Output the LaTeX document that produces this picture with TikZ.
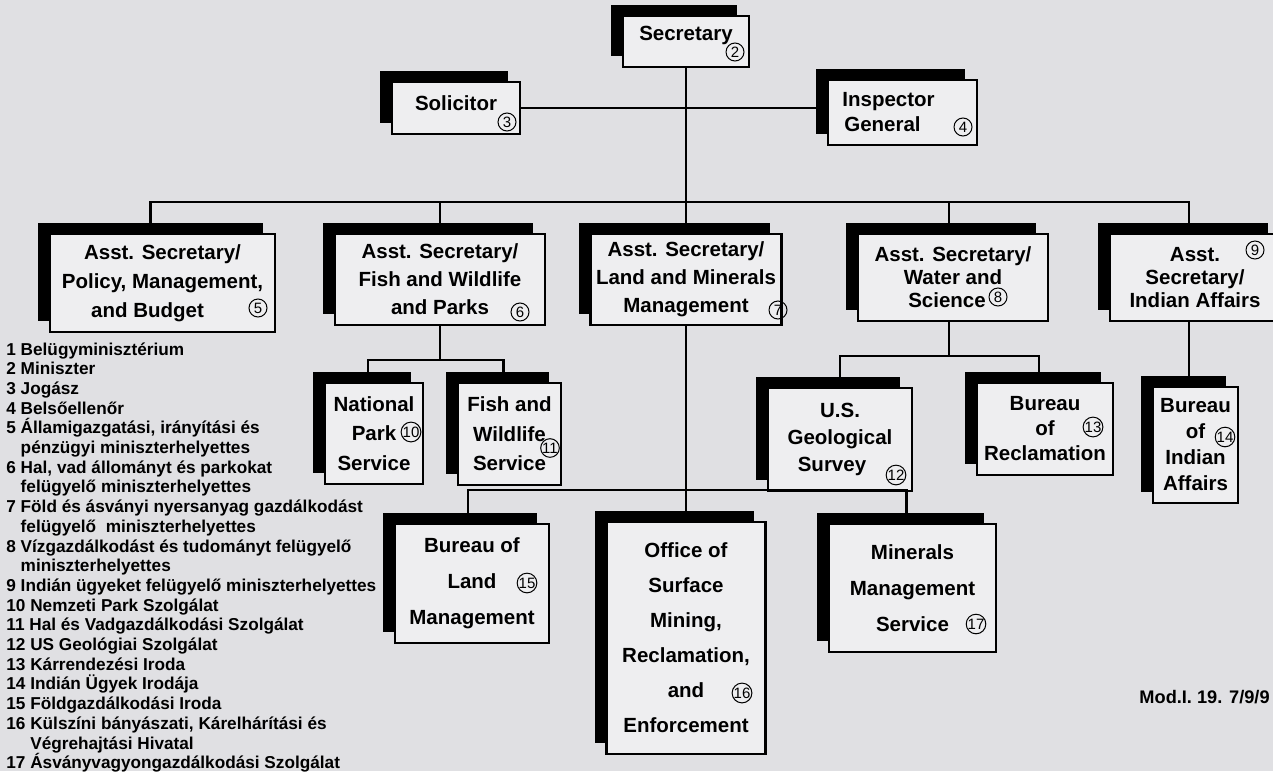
\documentclass[tikz,border=0pt]{standalone}
\usepackage{fontspec}
\setmainfont{Liberation Sans}
\usetikzlibrary{shadows}
\definecolor{paper}{RGB}{224,224,227}
\definecolor{card}{RGB}{238,238,240}

\begin{document}
\begin{tikzpicture}[x=.5pt,y=-.5pt,
  unit/.style={draw,line width=1.2pt,fill=card,align=center,inner xsep=.5pt,inner ysep=1pt,
    font=\bfseries\fontsize{10.25}{#1}\selectfont,
    general shadow={fill=black,shadow xshift=-6pt,shadow yshift=5.5pt}},
  unit/.default=14,
  wh/.style 2 args={minimum width=#1*.5pt,minimum height=#2*.5pt},
  num/.style={circle,draw,line width=.5pt,inner sep=0pt,minimum size=9pt,
    font=\fontsize{7.5}{7.5}\selectfont},
  wire/.style={line width=1.25pt},
  key/.style={align=left,inner sep=0pt,font=\bfseries\fontsize{8.6}{9.85}\selectfont}]
 \useasboundingbox (0,0) rectangle (1273,771);
 \fill[paper] (0,0) rectangle (1273,771);

 \node[unit=8,wh={126}{51}] (sec) at (686,41.5) {Secretary\\\mbox{}};
 \node[unit=5,wh={128}{52}] (sol) at (456,108) {Solicitor\\\mbox{}};
 \node[unit=12.5,wh={149}{65}] (insp) at (902.5,112.5) {Inspector\hspace*{14pt}\\General\hspace*{20pt}};

 \node[unit=14.5,wh={225}{98}] (as5) at (162.5,283) {Asst. Secretary/\\Policy, Management,\\and Budget\hspace*{15pt}};
 \node[unit,wh={210}{91}] (as6) at (440,279.5) {Asst. Secretary/\\Fish and Wildlife\\and Parks};
 \node[unit,wh={191}{91}] (as7) at (686,279.5) {Asst. Secretary/\\Land and Minerals\\Management};
 \node[unit=11.5,wh={190}{87}] (as8) at (953,277.5) {Asst. Secretary/\\Water and\\Science\hspace*{6pt}};
 \node[unit=11.5,wh={170}{87}] (as9) at (1195,277.5) {Asst.\\Secretary/\\Indian Affairs};

 \node[unit=14.75,wh={98}{101}] (nps) at (374,433.5) {National\\Park\hspace*{6pt}\\Service};
 \node[unit=14.75,wh={103}{102}] (fws) at (509.5,434) {Fish and\\Wildlife\\Service};
 \node[unit=13.5,wh={144}{103}] (usgs) at (840,439.5) {U.S.\\Geological\\Survey\hspace*{8pt}};
 \node[unit=12.5,wh={136}{92}] (bor) at (1045,429) {Bureau\\of\\Reclamation};
 \node[unit=13,wh={85}{116}] (bia) at (1195.5,445) {Bureau\\of\\Indian\\Affairs};

 \node[unit=18,wh={154}{119}] (blm) at (472,583.5) {Bureau of\\Land\\Management};
 \node[unit=17.5,wh={159}{232}] (osm) at (686,638) {Office of\\Surface\\Mining,\\Reclamation,\\and\\Enforcement};
 \node[unit=18,wh={167}{128}] (mms) at (912.5,588) {Minerals\\Management\\Service};

 \foreach \n/\x/\y in {2/735/52,3/507/122,4/963/127,5/258/308,6/520/312,7/778/310,
   8/998/297,9/1255/250,10/411/432,11/550/448,12/896/475,13/1093/427,14/1225/437,
   15/527/583,16/742/693,17/976/624}
   \node[num] (n\n) at (\x,\y) {\n};

 \coordinate (hub) at (686,202);
 \draw[wire] (sec.south) -- (as7.north);
 \draw[wire] (sol.east) -- (sol.east -| insp.west);
 \draw[wire] ([xshift=-6pt]as5.north) |- (hub) -| ([xshift=-3pt]as9.north);
 \draw[wire] (hub) -| (as6.north);
 \draw[wire] (hub) -| ([xshift=-2pt]as8.north);

 \draw[wire] (as6.south) -- ++(0,34) coordinate (j6);
 \draw[wire] ([xshift=-3pt]nps.north) |- (j6) -| ([xshift=-3pt]fws.north);
 \draw[wire] (as7.south) -- (osm.north);
 \coordinate (j7) at (as7.south |- 0,490);
 \draw[wire] ([xshift=-2pt]blm.north) |- (j7) -| ([xshift=-3pt]mms.north);
 \draw[wire] ([xshift=-2pt]as8.south) -- ++(0,34) coordinate (j8);
 \draw[wire] (usgs.north) |- (j8) -| ([xshift=-3pt]bor.north);
 \draw[wire] ([xshift=-3pt]as9.south) -- ([xshift=-3pt]as9.south |- bia.north);

 \node[key,anchor=north west] (legend) at (6,342) {1 Belügyminisztérium\\
   2 Miniszter\\
   3 Jogász\\
   4 Belsőellenőr\\
   5 Államigazgatási, irányítási és\\
   \phantom{5\ }pénzügyi miniszterhelyettes\\
   6 Hal, vad állományt és parkokat\\
   \phantom{6\ }felügyelő miniszterhelyettes\\
   7 Föld és ásványi nyersanyag gazdálkodást\\
   \phantom{7\ }felügyelő\ \ miniszterhelyettes\\
   8 Vízgazdálkodást és tudományt felügyelő\\
   \phantom{8\ }miniszterhelyettes\\
   9 Indián ügyeket felügyelő miniszterhelyettes\\
   10 Nemzeti Park Szolgálat\\
   11 Hal és Vadgazdálkodási Szolgálat\\
   12 US Geológiai Szolgálat\\
   13 Kárrendezési Iroda\\
   14 Indián Ügyek Irodája\\
   15 Földgazdálkodási Iroda\\
   16 Külszíni bányászati, Kárelhárítási és\\
   \phantom{16\ }Végrehajtási Hivatal\\
   17 Ásványvagyongazdálkodási Szolgálat};
 \node[key,anchor=east,font=\bfseries\fontsize{9.1}{10}\selectfont] (mod) at (1270,697) {Mod.I. 19. 7/9/9};
\end{tikzpicture}
\end{document}
